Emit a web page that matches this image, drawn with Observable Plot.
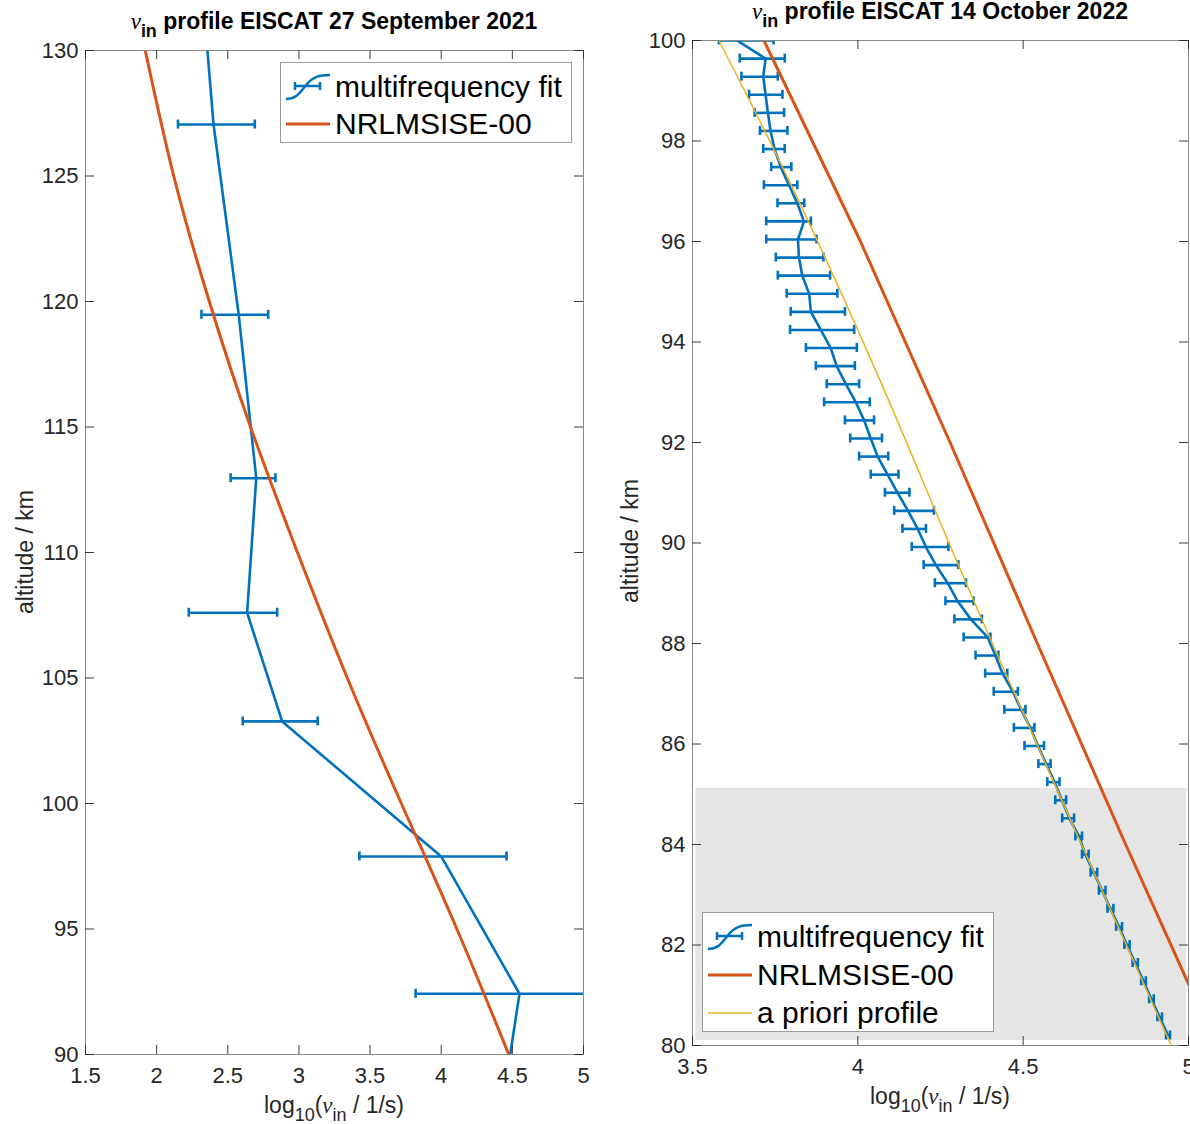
<!DOCTYPE html>
<html>
<head>
<meta charset="utf-8">
<script src="https://cdn.jsdelivr.net/npm/d3@7"></script>
<script src="https://cdn.jsdelivr.net/npm/@observablehq/plot@0.6"></script>
<style>
html,body{margin:0;padding:0;background:#fff;}
#root{position:relative;width:1190px;height:1124px;overflow:hidden;font-family:"Liberation Sans",Arial,Helvetica,sans-serif;color:#000;}
.abs{position:absolute;white-space:nowrap;}
.title{font-size:23px;font-weight:bold;line-height:23px;transform:translateX(-50%);}
.nu{font-family:"Liberation Serif","DejaVu Serif",serif;font-style:italic;font-weight:normal;}
.sub{font-size:0.78em;position:relative;top:0.45em;line-height:0;}
.xlabel{font-size:23px;line-height:23px;transform:translateX(-50%);color:#262626;}
.ylabel{font-size:23px;line-height:23px;transform:translate(-50%,-50%) rotate(-90deg);color:#262626;}
.legend{background:#fff;border:1px solid #9a9a9a;box-sizing:border-box;}
.lrow{position:absolute;left:0;right:0;height:38px;}
.lrow svg{position:absolute;left:4px;top:4px;}
.lrow span{position:absolute;left:54px;top:0;line-height:38px;font-size:30px;color:#000;}
#left,#right{position:absolute;top:0;}
#left{left:0;} #right{left:590px;}
</style>
</head>
<body>
<div id="root">
  <div id="left"></div>
  <div id="right"></div>

  <div class="abs title" style="left:334px;top:10px;"><span class="nu">ν</span><span class="sub">in</span> profile EISCAT 27 September 2021</div>
  <div class="abs title" style="left:940px;top:0px;"><span class="nu">ν</span><span class="sub">in</span> profile EISCAT 14 October 2022</div>

  <div class="abs xlabel" style="left:334px;top:1094px;">log<span class="sub">10</span>(<span class="nu">ν</span><span class="sub">in</span> / 1/s)</div>
  <div class="abs xlabel" style="left:940px;top:1085px;">log<span class="sub">10</span>(<span class="nu">ν</span><span class="sub">in</span> / 1/s)</div>

  <div class="abs ylabel" style="left:25px;top:552px;">altitude / km</div>
  <div class="abs ylabel" style="left:630px;top:541px;">altitude / km</div>

  <div class="abs legend" style="left:280px;top:62px;width:292px;height:81px;">
    <div class="lrow" style="top:5px;">
      <svg width="46" height="30"><path d="M1,27 C12,27 15,20 22,12 C28,5 34,3 45,3" fill="none" stroke="#0072BD" stroke-width="2.5"/><path d="M10,14 H35 M10,10 V18 M35,10 V18" stroke="#0072BD" stroke-width="2.5" fill="none"/></svg>
      <span>multifrequency fit</span>
    </div>
    <div class="lrow" style="top:42px;">
      <svg width="46" height="30"><path d="M1,15 H45" stroke="#D95319" stroke-width="3"/></svg>
      <span>NRLMSISE-00</span>
    </div>
  </div>

  <div class="abs legend" style="left:702px;top:912px;width:292px;height:120px;">
    <div class="lrow" style="top:5px;">
      <svg width="46" height="30"><path d="M1,27 C12,27 15,20 22,12 C28,5 34,3 45,3" fill="none" stroke="#0072BD" stroke-width="2.5"/><path d="M10,14 H35 M10,10 V18 M35,10 V18" stroke="#0072BD" stroke-width="2.5" fill="none"/></svg>
      <span>multifrequency fit</span>
    </div>
    <div class="lrow" style="top:43px;">
      <svg width="46" height="30"><path d="M1,15 H45" stroke="#D95319" stroke-width="3"/></svg>
      <span>NRLMSISE-00</span>
    </div>
    <div class="lrow" style="top:81px;">
      <svg width="46" height="30"><path d="M1,15 H45" stroke="#EDB120" stroke-width="1.5"/></svg>
      <span>a priori profile</span>
    </div>
  </div>
</div>

<script>
const blue = "#0072BD", orange = "#D95319", yellow = "#EDB120";

// ---------- Left panel: 27 September 2021 ----------
const altL = [135.6, 127.05, 119.47, 112.96, 107.6, 103.27, 97.89, 92.42, 87.6];
const fitL = [2.275, 2.40, 2.577, 2.70, 2.636, 2.882, 4.0, 4.55, 4.42];
const loL  = [2.0, 2.15, 2.315, 2.52, 2.226, 2.605, 3.425, 3.82, 3.9];
const hiL  = [2.6, 2.69, 2.784, 2.835, 2.847, 3.132, 4.459, 5.3, 5.0];

const msisAltL = [130, 125, 120, 115, 110, 105, 100, 95, 90];
const msisL    = [1.92, 2.12, 2.37, 2.66, 2.99, 3.34, 3.72, 4.11, 4.475];

const xTicksL = [1.5, 2, 2.5, 3, 3.5, 4, 4.5, 5];
const yTicksL = [90, 95, 100, 105, 110, 115, 120, 125, 130];

// ---------- Right panel: 14 October 2022 ----------
const altR = [100.0, 99.64, 99.28, 98.92, 98.56, 98.20, 97.84, 97.48, 97.12, 96.76,
              96.40, 96.04, 95.68, 95.32, 94.96, 94.60, 94.24, 93.88, 93.52, 93.16,
              92.80, 92.44, 92.08, 91.72, 91.36, 91.00, 90.64, 90.28, 89.92, 89.56,
              89.20, 88.84, 88.48, 88.12, 87.76, 87.40, 87.04, 86.68, 86.32, 85.96,
              85.60, 85.24, 84.88, 84.52, 84.16, 83.80, 83.44, 83.08, 82.72, 82.36,
              82.00, 81.64, 81.28, 80.92, 80.56, 80.20];
const fitR = [3.635, 3.721, 3.714, 3.721, 3.728, 3.736, 3.748, 3.767, 3.792, 3.817,
              3.837, 3.819, 3.822, 3.832, 3.853, 3.858, 3.888, 3.918, 3.936, 3.964,
              3.994, 4.019, 4.039, 4.060, 4.090, 4.120, 4.152, 4.181, 4.206, 4.236,
              4.272, 4.302, 4.342, 4.393, 4.416, 4.438, 4.469, 4.494, 4.522, 4.545,
              4.570, 4.595, 4.617, 4.640, 4.669, 4.688, 4.714, 4.739, 4.764, 4.790,
              4.814, 4.839, 4.864, 4.888, 4.913, 4.938];
const loR  = [3.580, 3.643, 3.648, 3.671, 3.688, 3.704, 3.714, 3.738, 3.716, 3.757,
              3.723, 3.723, 3.752, 3.758, 3.785, 3.797, 3.795, 3.843, 3.873, 3.906,
              3.898, 3.961, 3.977, 4.004, 4.039, 4.082, 4.110, 4.135, 4.163, 4.199,
              4.233, 4.265, 4.292, 4.320, 4.356, 4.385, 4.411, 4.443, 4.472, 4.504,
              4.546, 4.573, 4.597, 4.618, 4.658, 4.678, 4.704, 4.729, 4.755, 4.781,
              4.806, 4.831, 4.857, 4.881, 4.906, 4.932];
const hiR  = [3.745, 3.779, 3.758, 3.772, 3.777, 3.787, 3.779, 3.799, 3.817, 3.838,
              3.858, 3.875, 3.896, 3.916, 3.938, 3.961, 3.989, 3.997, 3.991, 4.004,
              4.036, 4.049, 4.073, 4.092, 4.123, 4.156, 4.230, 4.206, 4.274, 4.304,
              4.327, 4.350, 4.375, 4.401, 4.425, 4.452, 4.484, 4.507, 4.534, 4.563,
              4.583, 4.610, 4.630, 4.654, 4.678, 4.698, 4.724, 4.749, 4.773, 4.799,
              4.822, 4.847, 4.871, 4.895, 4.920, 4.944];

const msisAltR = [100, 96, 92, 88, 84, 80];
const msisR    = [3.716, 4.008, 4.279, 4.543, 4.810, 5.084];

const aprioriAltR = [100, 97.21, 93.63, 90.85, 88.06, 84.08, 80];
const aprioriR    = [3.58, 3.792, 4.041, 4.221, 4.403, 4.671, 4.948];

const shadeAltR = [80.1, 85.12];
const shadeLogR = [3.51, 4.995];

const xTicksR = [3.5, 4, 4.5, 5];
const yTicksR = [80, 82, 84, 86, 88, 90, 92, 94, 96, 98, 100];

// ---------- helpers ----------
const zip = (alt, c, lo, hi) => alt.map((a, i) => ({alt: a, c: c[i], lo: lo ? lo[i] : null, hi: hi ? hi[i] : null}));

function errorMarks(data) {
  const common = {stroke: blue, strokeWidth: 2.6, clip: true};
  return [
    Plot.ruleY(data, {y: "alt", x1: "lo", x2: "hi", ...common}),
    Plot.ruleX(data, {x: "lo", y1: "alt", y2: "alt", insetTop: -4.5, insetBottom: -4.5, ...common}),
    Plot.ruleX(data, {x: "hi", y1: "alt", y2: "alt", insetTop: -4.5, insetBottom: -4.5, ...common}),
    Plot.line(data, {x: "c", y: "alt", stroke: blue, strokeWidth: 2.6, clip: true})
  ];
}

function panel(o) {
  const W = 600, H = 1124;
  const iw = W - o.ml - o.mr, ih = H - o.mt - o.mb;
  const T = 9;
  const tk = {stroke: "#262626", strokeWidth: 0.9};
  return Plot.plot({
    width: W, height: H,
    marginLeft: o.ml, marginRight: o.mr, marginTop: o.mt, marginBottom: o.mb,
    x: {domain: o.xd, axis: null},
    y: {domain: o.yd, axis: null},
    style: {fontFamily: '"Liberation Sans", Arial, sans-serif', fontSize: "22px", background: "transparent", overflow: "visible"},
    marks: [
      ...o.marks,
      Plot.frame({stroke: "#8a8a8a", strokeWidth: 1}),
      // inward ticks on all four sides
      Plot.ruleX(o.xt, {x: d => d, insetTop: ih - T, ...tk}),
      Plot.ruleX(o.xt, {x: d => d, insetBottom: ih - T, ...tk}),
      Plot.ruleY(o.yt, {y: d => d, insetRight: iw - T, ...tk}),
      Plot.ruleY(o.yt, {y: d => d, insetLeft: iw - T, ...tk}),
      // tick labels
      Plot.text(o.xt, {x: d => d, text: d => String(d), frameAnchor: "bottom", lineAnchor: "top", dy: 13, fill: "#262626", fontSize: 22}),
      Plot.text(o.yt, {y: d => d, text: d => String(d), frameAnchor: "left", textAnchor: "end", dx: -7, fill: "#262626", fontSize: 22})
    ]
  });
}

const dataL = zip(altL, fitL, loL, hiL);
const msisDataL = zip(msisAltL, msisL);
const left = panel({
  ml: 85, mr: 17, mt: 50, mb: 70,
  xd: [1.5, 5], yd: [90, 130], xt: xTicksL, yt: yTicksL,
  marks: [
    ...errorMarks(dataL),
    Plot.line(msisDataL, {x: "c", y: "alt", stroke: orange, strokeWidth: 3, curve: "natural", clip: true})
  ]
});
document.getElementById("left").append(left);

const dataR = zip(altR, fitR, loR, hiR);
const msisDataR = zip(msisAltR, msisR);
const aprioriDataR = zip(aprioriAltR, aprioriR);
const shade = [{x1: shadeLogR[0], x2: shadeLogR[1], y1: shadeAltR[0], y2: shadeAltR[1]}];
const right = panel({
  ml: 102, mr: 2, mt: 40, mb: 79,
  xd: [3.5, 5], yd: [80, 100], xt: xTicksR, yt: yTicksR,
  marks: [
    Plot.rect(shade, {x1: "x1", x2: "x2", y1: "y1", y2: "y2", fill: "#e5e5e5"}),
    ...errorMarks(dataR),
    Plot.line(msisDataR, {x: "c", y: "alt", stroke: orange, strokeWidth: 3, clip: true}),
    Plot.line(aprioriDataR, {x: "c", y: "alt", stroke: yellow, strokeWidth: 1.5, curve: "natural", clip: true})
  ]
});
document.getElementById("right").append(right);
</script>
</body>
</html>
